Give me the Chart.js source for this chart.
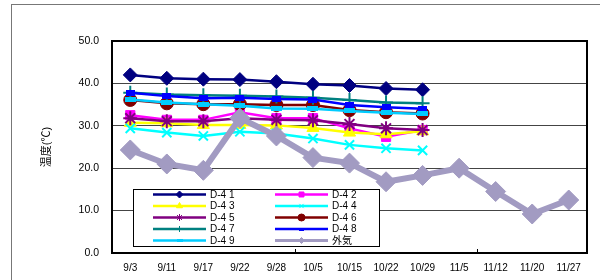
<!DOCTYPE html>
<html><head><meta charset="utf-8">
<script src="https://cdn.jsdelivr.net/npm/chart.js@4.4.1/dist/chart.umd.min.js"></script>
<style>
html,body{margin:0;padding:0;background:#fff;}
#wrap{position:relative;width:600px;height:280px;}
#frame{position:absolute;left:11px;top:4px;width:600px;height:300px;border-left:1px solid #777;border-top:1px solid #777;}
canvas{position:absolute;left:0;top:0;}
</style></head>
<body><div id="wrap"><div id="frame"></div><canvas id="c" width="600" height="280"></canvas></div>
<script>
const categories = ['9/3','9/11','9/17','9/22','9/28','10/5','10/15','10/22','10/29','11/5','11/12','11/20','11/27'];
const yTicks = [0, 10, 20, 30, 40, 50];
const seriesNames = ['D-4 1','D-4 2','D-4 3','D-4 4','D-4 5','D-4 6','D-4 7','D-4 8','D-4 9','外気'];
const d41 = [42.0, 41.2, 41.0, 40.9, 40.4, 39.8, 39.5, 38.8, 38.5];
const d42 = [32.5, 31.4, 31.4, 33.2, 31.8, 31.8, 29.4, 27.4, 29.0];
const d43 = [30.7, 30.6, 30.2, 30.2, 30.1, 29.5, 28.4, 28.0, 28.7];
const d44 = [29.4, 28.4, 27.6, 28.6, 28.2, 27.0, 25.5, 24.7, 24.2];
const d45 = [31.8, 31.1, 31.1, 31.8, 31.4, 31.3, 30.4, 29.4, 29.0];
const d46 = [36.1, 35.3, 35.1, 35.1, 34.9, 34.9, 33.7, 33.2, 32.9];
const d47 = [37.8, 37.4, 37.2, 37.1, 36.9, 36.6, 36.1, 35.5, 35.3];
const d48 = [37.8, 37.0, 36.5, 36.6, 36.3, 36.2, 34.9, 34.4, 34.0];
const d49 = [36.2, 35.5, 35.1, 34.7, 34.1, 34.0, 33.5, 33.1, 32.8];
const outside = [24.3, 21.0, 19.5, 31.8, 27.6, 22.5, 21.2, 16.8, 18.3, 20.0, 14.5, 9.2, 12.5];

function dashImg(w, h, color){
  const c = document.createElement('canvas'); c.width = w; c.height = h;
  const g = c.getContext('2d'); g.fillStyle = color; g.fillRect(0,0,w,h); return c;
}
const FONT = '"Liberation Sans", Arial, "Noto Sans CJK JP", sans-serif';
const styles = [
  {c:'#000080', ps:'rectRot', r:7, lr:3.5},
  {c:'#FF00FF', ps:'rect', r:6.5, lr:3.5},
  {c:'#FFFF00', ps:'triangle', r:7, lr:3.5},
  {c:'#00FFFF', ps:'crossRot', r:6.5, lr:3, bw:2},
  {c:'#800080', ps:'star', r:7, lr:3.5, bw:2},
  {c:'#800000', ps:'circle', r:6.5, lr:3.5},
  {c:'#008080', ps:'cross', r:7, lr:3, bw:2},
  {c:'#0000FF', ps:dashImg(9,6,'#0000FF'), lps:dashImg(5,3,'#0000FF')},
  {c:'#00CCFF', ps:dashImg(11,5,'#00CCFF'), lps:dashImg(6,3,'#00CCFF')},
];
const allData = [d41,d42,d43,d44,d45,d46,d47,d48,d49];
const datasets = allData.map((d,i)=>({
  label: seriesNames[i], data: d,
  borderColor: styles[i].c, backgroundColor: styles[i].c,
  pointStyle: styles[i].ps, pointRadius: styles[i].r || 5,
  pointBorderWidth: styles[i].bw || 1, pointBorderColor: styles[i].c,
  borderWidth: 2.5, tension: 0, order: 20 - i,
  legendR: styles[i].lr || 3, legendPs: styles[i].lps || styles[i].ps
}));
datasets.push({
  label: seriesNames[9], data: outside,
  borderColor: '#A29BC2', backgroundColor: '#A29BC2',
  pointStyle: 'rectRot', pointRadius: 10, pointBorderWidth: 1, pointBorderColor:'#A29BC2',
  borderWidth: 6, tension: 0, order: 0, legendR: 3, legendPs:'rectRot', legendLw: 3
});

const framePlugin = {
  id: 'framePlugin',
  beforeDatasetsDraw(chart){
    const {ctx, chartArea:a, scales} = chart;
    ctx.save();
    ctx.strokeStyle = '#000'; ctx.lineWidth = 1;
    [4.5, 9.5].forEach(v=>{
      const x = Math.round(scales.x.getPixelForValue(v)) + 0.5;
      ctx.beginPath(); ctx.moveTo(x, a.bottom); ctx.lineTo(x, a.bottom - 4); ctx.stroke();
    });
    ctx.restore();
  },
  afterDatasetsDraw(chart){
    const {ctx, chartArea:a} = chart;
    ctx.save();
    const lx = 133.5, ly = 189.5, lw = 246, lh = 57;
    ctx.fillStyle = '#fff'; ctx.fillRect(lx, ly, lw, lh);
    ctx.strokeStyle = '#000'; ctx.lineWidth = 1; ctx.strokeRect(lx, ly, lw, lh);
    ctx.font = '10px ' + FONT; ctx.textBaseline = 'middle'; ctx.textAlign = 'left';
    chart.data.datasets.forEach((ds, i)=>{
      const col = i % 2, row = Math.floor(i / 2);
      const y = 194.5 + row * 11.5;
      const x0 = col === 0 ? 153 : 275, x1 = x0 + 53;
      ctx.strokeStyle = ds.borderColor; ctx.lineWidth = ds.legendLw || 2.5;
      ctx.beginPath(); ctx.moveTo(x0, y); ctx.lineTo(x1, y); ctx.stroke();
      ctx.fillStyle = ds.backgroundColor; ctx.strokeStyle = ds.borderColor; ctx.lineWidth = 1;
      Chart.helpers.drawPoint(ctx, {pointStyle: ds.legendPs, radius: ds.legendR, borderWidth: 1, rotation: 0}, (x0+x1)/2, y);
      ctx.fillStyle = '#000';
      ctx.fillText(ds.label, x1 + 4, y + 0.5);
    });
    ctx.strokeStyle = '#000'; ctx.lineWidth = 2;
    ctx.strokeRect(a.left, a.top, a.right - a.left, a.bottom - a.top);
    ctx.restore();
  }
};

new Chart(document.getElementById('c'), {
  type: 'line',
  data: { labels: categories, datasets },
  options: {
    responsive: false, animation: false, devicePixelRatio: 1,
    layout: { padding: { left: 40, right: 13, top: 41, bottom: 0 } },
    plugins: { legend: { display: false }, tooltip: { enabled: false } },
    scales: {
      x: {
        offset: true,
        grid: { display: false, drawTicks: false },
        border: { display: false },
        ticks: { color: '#000', font: { size: 10, family: FONT }, padding: 9, maxRotation: 0, autoSkip: false },
        afterFit(s){ s.height = 27; }
      },
      y: {
        min: 0, max: 50,
        afterBuildTicks(s){ s.ticks = yTicks.map(v=>({value:v})); },
        grid: { color: '#444', lineWidth: 1, drawTicks: false },
        border: { display: false },
        ticks: { color: '#000', font: { size: 10.5, family: FONT }, padding: 13, callback: v => Number(v).toFixed(1) },
        title: { display: true, text: '温度(℃)', color: '#000', font: { size: 11, family: FONT }, padding: 0 },
        afterFit(s){ s.width = 72; }
      }
    }
  },
  plugins: [framePlugin]
});
</script>
</body></html>
